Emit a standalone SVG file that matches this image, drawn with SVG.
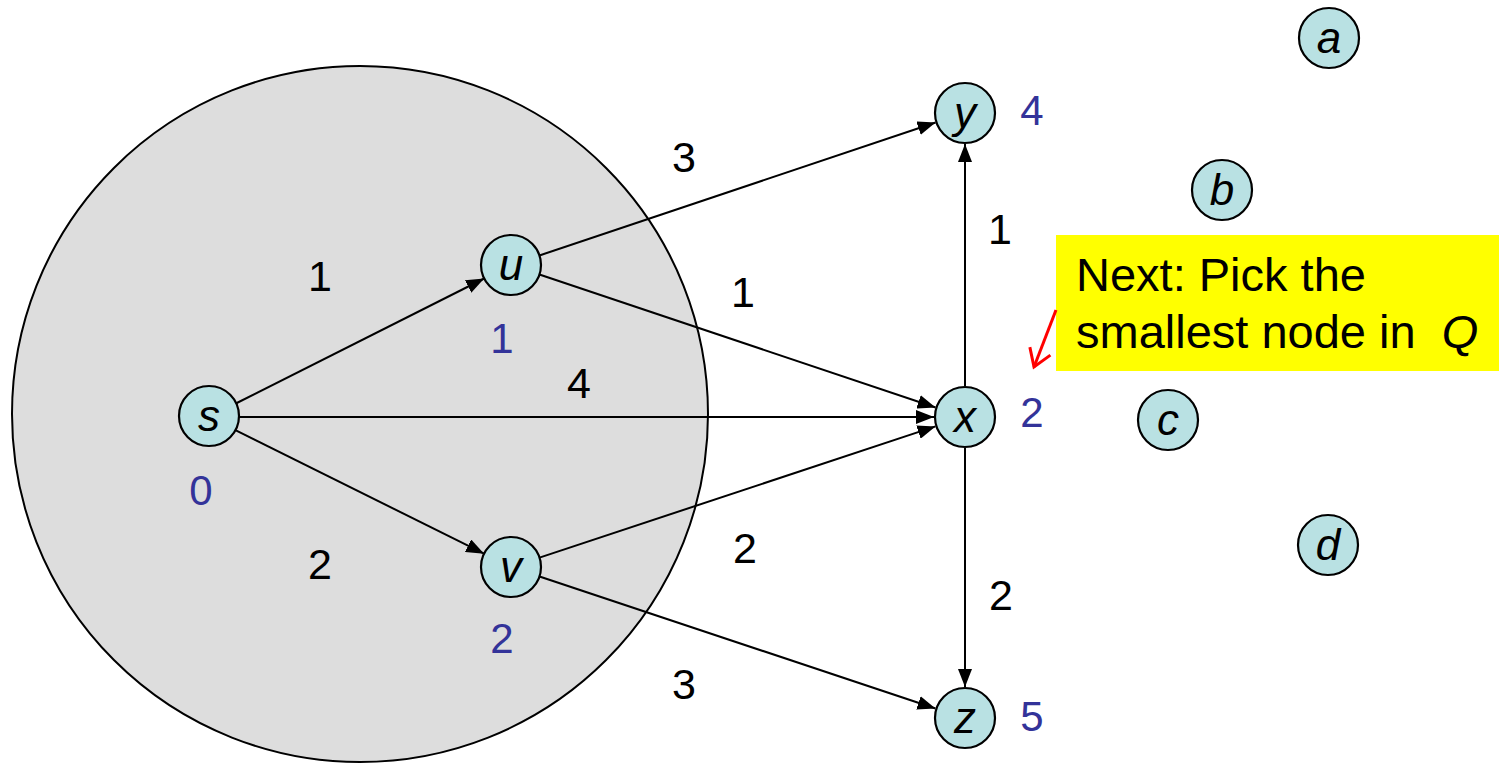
<svg xmlns="http://www.w3.org/2000/svg" width="1499" height="764" viewBox="0 0 1499 764">
<style>
.node{fill:#b9e1e3;stroke:#000;stroke-width:2.2}
.lbl{font-family:"Liberation Sans",Arial,sans-serif;font-style:italic;font-size:44px;fill:#000;text-anchor:middle}
.w{font-family:"Liberation Sans",Arial,sans-serif;font-size:43px;fill:#000;text-anchor:middle}
.d{font-family:"Liberation Sans",Arial,sans-serif;font-size:42px;fill:#333399;text-anchor:middle}
.e{stroke:#000;stroke-width:2;fill:none;marker-end:url(#ah)}
.note{font-family:"Liberation Sans",Arial,sans-serif;font-size:47px;fill:#000}
</style>
<defs>
<marker id="ah" markerUnits="userSpaceOnUse" markerWidth="20" markerHeight="14" refX="18" refY="7" orient="auto">
<path d="M0,0 L18,7 L0,14 Z" fill="#000"/>
</marker>
<marker id="rah" markerUnits="userSpaceOnUse" markerWidth="24" markerHeight="26" refX="20" refY="13" orient="auto">
<path d="M3,2 L20,13 L3,24" fill="none" stroke="#ff0000" stroke-width="3"/>
</marker>
</defs>
<rect width="1499" height="764" fill="#fff"/>
<circle id="cloud" cx="360" cy="414" r="348" fill="#dddddd" stroke="#000" stroke-width="2"/>
<g id="connectors">
<line class="e" x1="235.8" y1="403.5" x2="484.2" y2="278.5"/>
<line class="e" x1="239" y1="417" x2="934" y2="417"/>
<line class="e" x1="235.9" y1="430.3" x2="484.1" y2="553.7"/>
<line class="e" x1="539.4" y1="255.5" x2="935.6" y2="122.5"/>
<line class="e" x1="539.4" y1="274.5" x2="935.6" y2="407.5"/>
<line class="e" x1="539.5" y1="557.6" x2="935.5" y2="426.4"/>
<line class="e" x1="539.5" y1="576.5" x2="935.5" y2="708.5"/>
<line class="e" x1="965" y1="386" x2="965" y2="144"/>
<line class="e" x1="965" y1="448" x2="965" y2="687"/>
<text class="w" x="684" y="172">3</text>
<text class="w" x="320" y="291">1</text>
<text class="w" x="743" y="307">1</text>
<text class="w" x="579" y="398">4</text>
<text class="w" x="1000" y="244">1</text>
<text class="w" x="320" y="579">2</text>
<text class="w" x="745" y="563">2</text>
<text class="w" x="684" y="699">3</text>
<text class="w" x="1001" y="610">2</text>
</g>
<g id="node-s"><circle class="node" cx="209" cy="416" r="30"/><text class="lbl" x="209" y="431">s</text><text class="d" x="201" y="505">0</text></g>
<g id="node-u"><circle class="node" cx="511" cy="265" r="30"/><text class="lbl" x="511" y="280">u</text><text class="d" x="502" y="353">1</text></g>
<g id="node-v"><circle class="node" cx="511" cy="567" r="30"/><text class="lbl" x="511" y="582">v</text><text class="d" x="502" y="653">2</text></g>
<g id="node-y"><circle class="node" cx="965" cy="113" r="30"/><text class="lbl" x="965" y="128">y</text><text class="d" x="1032" y="125">4</text></g>
<g id="node-x"><circle class="node" cx="965" cy="417" r="30"/><text class="lbl" x="965" y="432">x</text><text class="d" x="1032" y="427">2</text></g>
<g id="node-z"><circle class="node" cx="965" cy="718" r="30"/><text class="lbl" x="965" y="733">z</text><text class="d" x="1032" y="731">5</text></g>
<g id="node-a"><circle class="node" cx="1329" cy="38" r="30"/><text class="lbl" x="1329" y="53">a</text></g>
<g id="node-b"><circle class="node" cx="1222" cy="190" r="30"/><text class="lbl" x="1222" y="205">b</text></g>
<g id="node-c"><circle class="node" cx="1168" cy="420" r="30"/><text class="lbl" x="1168" y="435">c</text></g>
<g id="node-d"><circle class="node" cx="1328" cy="545" r="30"/><text class="lbl" x="1328" y="560">d</text></g>
<g id="note">
<rect x="1056" y="235" width="443" height="136" fill="#ffff00"/>
<text class="note" x="1076" y="291">Next: Pick the</text>
<text class="note" x="1076" y="348" xml:space="preserve">smallest node in  <tspan font-style="italic">Q</tspan></text>
<line x1="1056" y1="310" x2="1034" y2="367" stroke="#ff0000" stroke-width="3" marker-end="url(#rah)"/>
</g>
</svg>
